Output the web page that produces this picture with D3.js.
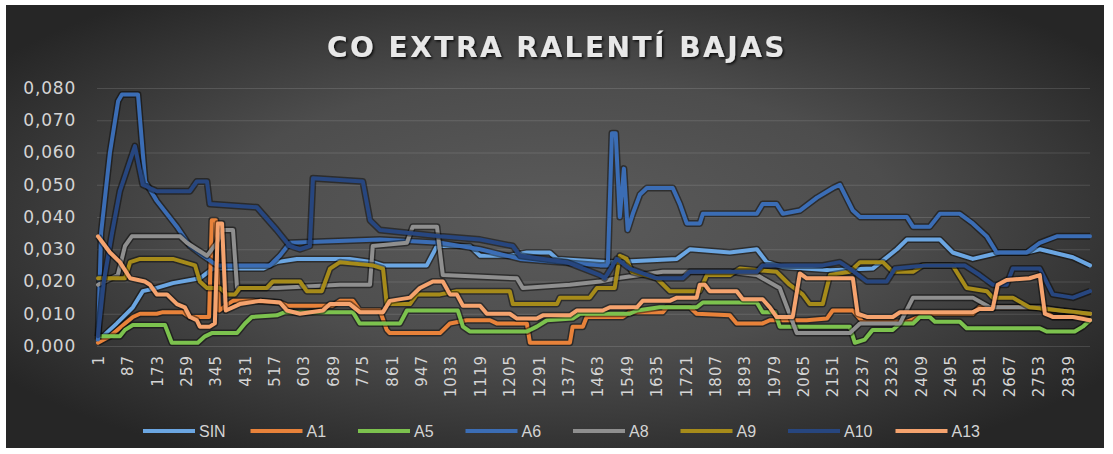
<!DOCTYPE html>
<html><head><meta charset="utf-8">
<script src="https://cdn.jsdelivr.net/npm/d3@7"></script>
<style>html,body{margin:0;padding:0;background:#fff;} svg{display:block}</style>
</head><body>
<svg id="chart" width="1113" height="454"></svg>
<script>
// ---- data ----
const titleText = "CO EXTRA RALENTÍ BAJAS";
const xTickLabels = [1,87,173,259,345,431,517,603,689,775,861,947,1033,1119,1205,1291,1377,1463,1549,1635,1721,1807,1893,1979,2065,2151,2237,2323,2409,2495,2581,2667,2753,2839];
const xDomain = [1, 2904];
const yTickValues = [0,0.01,0.02,0.03,0.04,0.05,0.06,0.07,0.08];
const seriesNames = ["SIN","A1","A5","A6","A8","A9","A10","A13"];

const SIN = [[1,0.002],[16,0.003],[56,0.007],[103,0.012],[132,0.017],[173,0.018],[220,0.0195],[299,0.021],[337,0.024],[484,0.024],[524,0.026],[583,0.027],[738,0.027],[805,0.026],[835,0.025],[963,0.025],[993,0.031],[1089,0.031],[1119,0.028],[1206,0.028],[1256,0.029],[1323,0.029],[1344,0.027],[1499,0.026],[1607,0.0265],[1695,0.027],[1733,0.030],[1850,0.029],[1929,0.030],[1958,0.026],[2005,0.0245],[2143,0.0235],[2268,0.024],[2339,0.030],[2368,0.033],[2465,0.033],[2502,0.029],[2561,0.027],[2640,0.029],[2719,0.029],[2757,0.030],[2854,0.0275],[2904,0.025]];
const A1 = [[1,0.001],[36,0.003],[80,0.007],[103,0.009],[124,0.010],[173,0.010],[191,0.0105],[249,0.0105],[270,0.009],[326,0.009],[334,0.039],[346,0.039],[355,0.011],[396,0.014],[454,0.014],[533,0.0135],[554,0.0125],[688,0.0125],[709,0.014],[747,0.014],[767,0.011],[826,0.011],[846,0.005],[855,0.004],[1002,0.004],[1031,0.007],[1080,0.008],[1148,0.008],[1168,0.007],[1256,0.007],[1265,0.001],[1382,0.001],[1390,0.006],[1420,0.006],[1431,0.009],[1537,0.009],[1557,0.0105],[1654,0.0105],[1666,0.012],[1733,0.012],[1753,0.010],[1850,0.0095],[1870,0.007],[1946,0.007],[1967,0.008],[2075,0.008],[2134,0.0085],[2151,0.011],[2210,0.011],[2239,0.0075],[2368,0.0075],[2426,0.010],[2561,0.010],[2581,0.012],[2757,0.012],[2795,0.009],[2854,0.009],[2904,0.010]];
const A5 = [[1,0.003],[65,0.003],[80,0.005],[103,0.0065],[197,0.0065],[217,0.001],[293,0.001],[314,0.003],[334,0.004],[408,0.004],[431,0.007],[451,0.009],[524,0.0095],[548,0.0105],[747,0.0105],[767,0.007],[885,0.007],[905,0.011],[1054,0.011],[1069,0.006],[1089,0.0045],[1256,0.0045],[1285,0.006],[1315,0.008],[1390,0.0085],[1411,0.010],[1557,0.010],[1578,0.011],[1645,0.012],[1753,0.012],[1771,0.0135],[1929,0.0135],[1946,0.0105],[1982,0.0105],[1996,0.006],[2201,0.006],[2216,0.001],[2245,0.002],[2268,0.005],[2327,0.005],[2348,0.007],[2386,0.007],[2406,0.009],[2435,0.009],[2450,0.0075],[2523,0.0075],[2543,0.0055],[2757,0.0055],[2777,0.0045],[2859,0.0045],[2883,0.006],[2904,0.008]];
const A6 = [[1,0.002],[10,0.035],[36,0.060],[60,0.076],[71,0.078],[118,0.078],[139,0.051],[173,0.045],[232,0.037],[270,0.031],[308,0.028],[349,0.025],[504,0.025],[533,0.028],[563,0.032],[826,0.033],[1002,0.032],[1119,0.030],[1236,0.027],[1353,0.026],[1470,0.025],[1493,0.025],[1505,0.066],[1516,0.066],[1528,0.040],[1540,0.055],[1551,0.036],[1566,0.041],[1587,0.047],[1607,0.049],[1683,0.049],[1704,0.044],[1724,0.038],[1762,0.038],[1771,0.041],[1929,0.041],[1946,0.044],[1987,0.044],[2005,0.041],[2055,0.042],[2105,0.046],[2152,0.049],[2172,0.050],[2210,0.042],[2231,0.040],[2368,0.040],[2386,0.037],[2435,0.037],[2465,0.041],[2523,0.041],[2561,0.038],[2602,0.034],[2631,0.029],[2719,0.029],[2757,0.032],[2807,0.034],[2904,0.034]];
const A8 = [[1,0.019],[59,0.022],[80,0.031],[100,0.034],[241,0.034],[261,0.032],[290,0.030],[320,0.028],[349,0.032],[366,0.036],[396,0.036],[408,0.018],[524,0.018],[709,0.019],[797,0.019],[805,0.031],[905,0.032],[922,0.037],[993,0.037],[1010,0.022],[1227,0.021],[1244,0.018],[1382,0.019],[1470,0.020],[1519,0.021],[1654,0.023],[1850,0.023],[1929,0.022],[1996,0.018],[2046,0.004],[2201,0.004],[2231,0.007],[2348,0.007],[2386,0.015],[2561,0.015],[2611,0.012],[2757,0.012],[2816,0.011],[2904,0.010]];
const A9 = [[1,0.021],[80,0.021],[95,0.026],[124,0.027],[220,0.027],[285,0.025],[299,0.020],[320,0.018],[358,0.018],[378,0.016],[402,0.016],[416,0.018],[495,0.018],[513,0.020],[592,0.020],[612,0.017],[656,0.017],[680,0.024],[709,0.026],[805,0.025],[835,0.024],[846,0.013],[914,0.013],[934,0.016],[1002,0.016],[1051,0.017],[1206,0.017],[1215,0.013],[1344,0.013],[1353,0.015],[1440,0.015],[1461,0.018],[1513,0.018],[1528,0.028],[1548,0.027],[1563,0.023],[1636,0.021],[1674,0.017],[1762,0.017],[1783,0.022],[1850,0.022],[1879,0.024],[1987,0.023],[2025,0.019],[2063,0.016],[2084,0.013],[2122,0.013],[2143,0.022],[2201,0.023],[2231,0.026],[2298,0.026],[2327,0.023],[2386,0.023],[2415,0.025],[2502,0.025],[2543,0.018],[2602,0.017],[2619,0.015],[2678,0.015],[2727,0.012],[2816,0.011],[2904,0.010]];
const A10 = [[1,0.003],[18,0.020],[42,0.035],[65,0.048],[109,0.062],[132,0.050],[173,0.048],[270,0.048],[290,0.051],[320,0.051],[328,0.044],[466,0.043],[524,0.036],[562,0.031],[592,0.030],[621,0.031],[630,0.052],[776,0.051],[797,0.039],[826,0.036],[1002,0.034],[1119,0.033],[1215,0.031],[1236,0.028],[1373,0.026],[1470,0.022],[1484,0.021],[1519,0.027],[1557,0.024],[1636,0.021],[1712,0.021],[1733,0.023],[1929,0.023],[1946,0.025],[2122,0.025],[2172,0.026],[2201,0.024],[2251,0.020],[2309,0.020],[2333,0.024],[2426,0.025],[2537,0.025],[2581,0.022],[2619,0.019],[2660,0.019],[2678,0.024],[2757,0.024],[2795,0.016],[2854,0.015],[2904,0.017]];
const A13 = [[1,0.034],[15,0.032],[36,0.029],[65,0.026],[95,0.021],[138,0.020],[153,0.019],[173,0.016],[203,0.016],[232,0.013],[255,0.012],[270,0.009],[290,0.008],[299,0.006],[328,0.006],[343,0.007],[352,0.038],[364,0.038],[375,0.011],[416,0.013],[475,0.014],[533,0.0135],[554,0.011],[592,0.010],[659,0.011],[680,0.013],[738,0.013],[767,0.0105],[835,0.0105],[855,0.014],[914,0.015],[943,0.018],[981,0.020],[1010,0.020],[1031,0.016],[1051,0.016],[1069,0.0125],[1119,0.0125],[1139,0.010],[1206,0.010],[1227,0.0085],[1285,0.0085],[1303,0.0095],[1382,0.0095],[1402,0.011],[1478,0.011],[1499,0.012],[1578,0.012],[1595,0.014],[1674,0.014],[1695,0.015],[1753,0.015],[1762,0.019],[1777,0.019],[1791,0.017],[1870,0.017],[1888,0.0145],[1946,0.0145],[1967,0.012],[1987,0.009],[2034,0.009],[2055,0.0225],[2075,0.021],[2210,0.021],[2224,0.010],[2251,0.009],[2327,0.009],[2348,0.0105],[2561,0.0105],[2581,0.0115],[2619,0.0115],[2634,0.019],[2660,0.0205],[2727,0.021],[2757,0.022],[2772,0.010],[2795,0.009],[2854,0.009],[2904,0.008]];
const seriesValues = [SIN, A1, A5, A6, A8, A9, A10, A13];

// ---- styles ----
const seriesColors = ["#6ba6e2","#e8823a","#7cc24e","#3b6db5","#8f8f8f","#a68b1a","#27467f","#f5a36e"];

const svg = d3.select("#chart");
const defs = svg.append("defs");
const g = defs.append("radialGradient").attr("id","bg").attr("cx","50%").attr("cy","48%").attr("r","62%");
g.append("stop").attr("offset","0%").attr("stop-color","#5b5b5b");
g.append("stop").attr("offset","50%").attr("stop-color","#4d4d4d");
g.append("stop").attr("offset","100%").attr("stop-color","#262626");
const f = defs.append("filter").attr("id","tshadow").attr("x","-10%").attr("y","-30%").attr("width","120%").attr("height","160%");
f.append("feDropShadow").attr("dx",1.5).attr("dy",1.5).attr("stdDeviation",1.2).attr("flood-color","#000").attr("flood-opacity",0.8);

svg.append("rect").attr("x",6).attr("y",5).attr("width",1098).attr("height",443).attr("fill","url(#bg)");

const x = d3.scaleLinear().domain(xDomain).range([98,1090]);
const y = d3.scaleLinear().domain([0,0.08]).range([346,88]);
const fmt = d3.formatLocale({decimal:",",thousands:".",grouping:[3],currency:["","€"]}).format(".3f");

// title
svg.append("text").text(titleText)
  .attr("x",557).attr("y",57).attr("text-anchor","middle")
  .attr("font-family","'DejaVu Sans', sans-serif").attr("font-weight","bold")
  .attr("font-size",28).attr("letter-spacing","2.5px").attr("fill","#e8e8e8")
  .attr("filter","url(#tshadow)");

// y axis + gridlines
const yAxisG = svg.append("g").attr("transform","translate(97,0)")
  .call(d3.axisLeft(y).tickValues(yTickValues).tickFormat(fmt).tickSize(-993).tickPadding(21));
yAxisG.select(".domain").remove();
yAxisG.selectAll(".tick line").attr("stroke","rgba(255,255,255,0.13)").attr("stroke-width",1);
yAxisG.selectAll(".tick text").attr("fill","#d4d4d4")
  .attr("font-family","'DejaVu Sans', sans-serif").attr("font-size",17).attr("letter-spacing","0.8px");

// x axis
const xAxisG = svg.append("g").attr("transform","translate(0,346)")
  .call(d3.axisBottom(x).tickValues(xTickLabels).tickFormat(d => String(d)).tickSize(0));
xAxisG.select(".domain").remove();
xAxisG.selectAll(".tick text")
  .attr("fill","#d4d4d4").attr("font-family","'DejaVu Sans', sans-serif").attr("font-size",15)
  .attr("letter-spacing","1px")
  .attr("text-anchor","end").attr("x",-9).attr("y",0).attr("dy","0.35em").attr("transform","rotate(-90)");

// lines
const line = d3.line().x(d => x(d[0])).y(d => y(d[1]));
const linesG = svg.append("g");
seriesValues.forEach((vals, i) => {
  linesG.append("path").attr("d", line(vals)).attr("fill","none")
    .attr("stroke","rgba(0,0,0,0.45)").attr("stroke-width",7).attr("stroke-linejoin","round");
  linesG.append("path").attr("d", line(vals)).attr("fill","none")
    .attr("stroke", seriesColors[i]).attr("stroke-width",4).attr("stroke-linejoin","round").attr("stroke-linecap","round");
});

// legend
const legend = svg.append("g");
seriesNames.forEach((name, i) => {
  const lx = 143 + i * 107.5, ly = 431;
  legend.append("line").attr("x1",lx).attr("x2",lx+52).attr("y1",ly).attr("y2",ly)
    .attr("stroke",seriesColors[i]).attr("stroke-width",4);
  legend.append("text").text(name).attr("x",lx+56).attr("y",ly).attr("dy","0.35em")
    .attr("fill","#d4d4d4").attr("font-family","'Liberation Sans', sans-serif").attr("font-size",16);
});
</script>
</body></html>
